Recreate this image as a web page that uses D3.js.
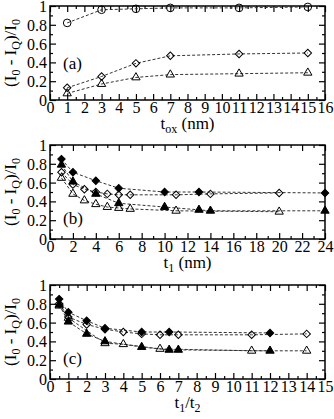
<!DOCTYPE html>
<html>
<head>
<meta charset="utf-8">
<script src="https://cdn.jsdelivr.net/npm/d3@7"></script>
<style>
  body { margin: 0; background: #fff; }
</style>
</head>
<body>
<div class="chart"></div>
<script>
// ---- data ----
// panel (a): vs t_ox
var aX = [1, 3, 5, 7, 11, 15];
var aCircle = [0.82, 0.96, 0.97, 0.98, 0.98, 0.99];
var aDiamond = [0.13, 0.25, 0.39, 0.47, 0.49, 0.50];
var aTriangle = [0.07, 0.17, 0.24, 0.27, 0.28, 0.29];

// panel (b): vs t1
var bFullDiamondX = [1, 2, 4, 6, 10, 13, 24];
var bFullDiamond = [0.85, 0.71, 0.62, 0.54, 0.50, 0.50, 0.49];
var bOpenDiamondX = [1, 2, 3, 4, 5, 6, 7, 11, 14, 20];
var bOpenDiamond = [0.71, 0.58, 0.53, 0.50, 0.48, 0.47, 0.47, 0.47, 0.48, 0.49];
var bFullTriX = [1, 2, 4, 6, 10, 13, 14, 24];
var bFullTri = [0.79, 0.61, 0.48, 0.38, 0.34, 0.31, 0.30, 0.30];
var bOpenTriX = [1, 2, 3, 4, 5, 6, 7, 11, 20];
var bOpenTri = [0.65, 0.48, 0.41, 0.37, 0.34, 0.33, 0.32, 0.30, 0.29];

// panel (c): vs t1/t2
var cFullDiamondX = [0.5, 1, 2, 3, 5, 6.5, 12];
var cFullDiamond = [0.85, 0.71, 0.62, 0.54, 0.50, 0.50, 0.49];
var cOpenDiamondX = [0.5, 1, 2, 3, 4, 5, 6, 7, 11, 14];
var cOpenDiamond = [0.80, 0.66, 0.58, 0.53, 0.50, 0.48, 0.47, 0.47, 0.47, 0.48];
var cFullTriX = [0.5, 1, 2, 3, 5, 6.5, 7, 12];
var cFullTri = [0.79, 0.61, 0.48, 0.40, 0.34, 0.31, 0.31, 0.30];
var cOpenTriX = [0.5, 1, 3, 4, 6, 11, 14];
var cOpenTri = [0.78, 0.65, 0.38, 0.37, 0.32, 0.30, 0.30];

var yTicks = [0, 0.2, 0.4, 0.6, 0.8, 1];

var svgWidth = 334;
var svgHeight = 419;
var left = 50, right = 325, plotH = 94;
var serif = "'Liberation Serif', 'Times New Roman', 'DejaVu Serif', serif";

var svg = d3.select(".chart").append("svg")
  .attr("width", svgWidth)
  .attr("height", svgHeight);

var zip = (xs, ys) => xs.map((x, i) => ({x: x, y: ys[i]}));

var panels = [
  {
    top: 6, xmax: 16, major: d3.range(0, 17, 1), minor: d3.range(0.5, 16, 1),
    tag: "(a)", tagY: 63, title: "ox",
    series: [
      {data: zip(aX, aCircle), shape: "circle", fill: false},
      {data: zip(aX, aDiamond), shape: "diamond", fill: false},
      {data: zip(aX, aTriangle), shape: "triangle", fill: false}
    ]
  },
  {
    top: 145, xmax: 24, major: d3.range(0, 25, 2), minor: d3.range(1, 24, 2),
    tag: "(b)", tagY: 79, title: "t1",
    series: [
      {data: zip(bOpenTriX, bOpenTri), shape: "triangle", fill: false},
      {data: zip(bOpenDiamondX, bOpenDiamond), shape: "diamond", fill: false},
      {data: zip(bFullTriX, bFullTri), shape: "triangle", fill: true},
      {data: zip(bFullDiamondX, bFullDiamond), shape: "diamond", fill: true}
    ]
  },
  {
    top: 285, xmax: 15, major: d3.range(0, 16, 1), minor: d3.range(0.5, 15, 1),
    tag: "(c)", tagY: 79, title: "ratio",
    series: [
      {data: zip(cOpenTriX, cOpenTri), shape: "triangle", fill: false},
      {data: zip(cOpenDiamondX, cOpenDiamond), shape: "diamond", fill: false},
      {data: zip(cFullTriX, cFullTri), shape: "triangle", fill: true},
      {data: zip(cFullDiamondX, cFullDiamond), shape: "diamond", fill: true}
    ]
  }
];

var symbols = {
  circle: d3.symbol(d3.symbolCircle, 46),
  diamond: d3.symbol(d3.symbolSquare, 28),
  triangle: d3.symbol(d3.symbolTriangle, 30)
};

panels.forEach(function(p) {
  var g = svg.append("g").attr("transform", `translate(0, ${p.top})`);
  var x = d3.scaleLinear().domain([0, p.xmax]).range([left, right]);
  var y = d3.scaleLinear().domain([0, 1]).range([plotH, 0]);

  // ticks (inward, mirrored on top/right)
  function axes(gen, tr, vals, size, labels) {
    var a = g.append("g").attr("transform", tr)
      .call(gen.tickValues(vals).tickSizeInner(size).tickSizeOuter(0)
        .tickPadding(2).tickFormat(labels ? d3.format("") : ""));
    a.attr("font-family", null).attr("font-size", null);
    a.select(".domain").remove();
    a.selectAll("line").attr("stroke", "#000").attr("stroke-width", 1.2);
    a.selectAll("text").style("font-family", serif).style("font-size", "16px");
    return a;
  }
  axes(d3.axisBottom(x), `translate(0, ${plotH})`, p.major, -6, true);
  axes(d3.axisBottom(x), `translate(0, ${plotH})`, p.minor, -3, false);
  axes(d3.axisTop(x), "translate(0, 0)", p.major, -6, false);
  axes(d3.axisTop(x), "translate(0, 0)", p.minor, -3, false);
  var yl = axes(d3.axisLeft(y), `translate(${left}, 0)`, yTicks, -6, true);
  yl.selectAll("text").attr("x", -3).attr("dy", "0.34em");
  axes(d3.axisLeft(y), `translate(${left}, 0)`, d3.range(0.1, 1, 0.2), -3, false);
  axes(d3.axisRight(y), `translate(${right}, 0)`, yTicks, -6, false);
  axes(d3.axisRight(y), `translate(${right}, 0)`, d3.range(0.1, 1, 0.2), -3, false);

  g.append("rect")
    .attr("x", left).attr("y", 0)
    .attr("width", right - left).attr("height", plotH)
    .attr("fill", "none").attr("stroke", "#000").attr("stroke-width", 1.5);

  var line = d3.line().x(d => x(d.x)).y(d => y(d.y));

  p.series.forEach(function(s) {
    g.append("path")
      .datum(s.data)
      .attr("d", line)
      .attr("fill", "none")
      .attr("stroke", "#333")
      .attr("stroke-width", 1)
      .attr("stroke-dasharray", "3,2");
  });
  p.series.forEach(function(s) {
    g.selectAll(null)
      .data(s.data)
      .enter()
      .append("path")
      .attr("d", symbols[s.shape])
      .attr("transform", d => `translate(${x(d.x)}, ${y(d.y)})` + (s.shape === "diamond" ? " rotate(45)" : ""))
      .attr("fill", s.fill ? "#000" : "none")
      .attr("stroke", "#000")
      .attr("stroke-width", 1);
  });

  // panel tag
  g.append("text")
    .attr("x", 63).attr("y", p.tagY)
    .style("font-family", serif).style("font-size", "17px")
    .text(p.tag);

  // y title
  var yt = g.append("text")
    .attr("transform", `translate(16, ${plotH / 2}) rotate(-90)`)
    .attr("text-anchor", "middle")
    .style("font-family", serif).style("font-size", "17px");
  yt.append("tspan").text("(I");
  yt.append("tspan").style("font-size", "12px").attr("dy", 4).text("0");
  yt.append("tspan").attr("dy", -4).text(" - I");
  yt.append("tspan").style("font-size", "12px").attr("dy", 4).text("Q");
  yt.append("tspan").attr("dy", -4).text(")/I");
  yt.append("tspan").style("font-size", "12px").attr("dy", 4).text("0");

  // x title
  var xt = g.append("text")
    .attr("x", (left + right) / 2).attr("y", plotH + 29)
    .attr("text-anchor", "middle")
    .style("font-family", serif).style("font-size", "17px");
  if (p.title === "ox") {
    xt.append("tspan").text("t");
    xt.append("tspan").style("font-size", "12px").attr("dy", 4).text("ox");
    xt.append("tspan").attr("dy", -4).text(" (nm)");
  } else if (p.title === "t1") {
    xt.append("tspan").text("t");
    xt.append("tspan").style("font-size", "12px").attr("dy", 4).text("1");
    xt.append("tspan").attr("dy", -4).text(" (nm)");
  } else {
    xt.append("tspan").text("t");
    xt.append("tspan").style("font-size", "12px").attr("dy", 4).text("1");
    xt.append("tspan").attr("dy", -4).text("/t");
    xt.append("tspan").style("font-size", "12px").attr("dy", 4).text("2");
  }
});
</script>
</body>
</html>
